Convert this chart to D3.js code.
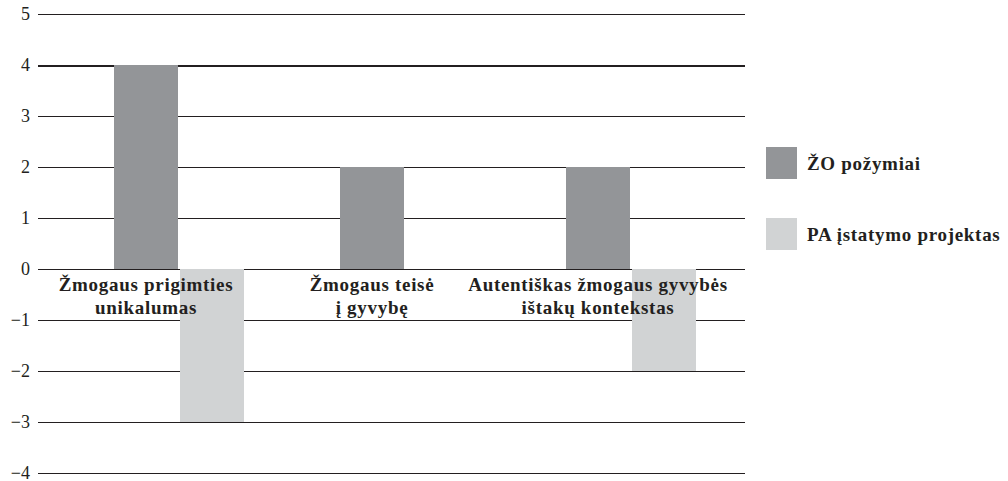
<!DOCTYPE html>
<html>
<head>
<meta charset="utf-8">
<script src="https://cdn.jsdelivr.net/npm/d3@7"></script>
<style>
  html, body { margin: 0; padding: 0; background: #fff; }
  svg text { font-family: "Liberation Serif", "DejaVu Serif", serif; fill: #231f20; }
</style>
</head>
<body>
<svg id="chart" width="1008" height="481"></svg>
<script>
// Categories (each split into display lines) and series values
const categories = ["Žmogaus prigimties unikalumas", "Žmogaus teisė į gyvybę", "Autentiškas žmogaus gyvybės ištakų kontekstas"];
const categoryLines = [["Žmogaus prigimties", "unikalumas"], ["Žmogaus teisė", "į gyvybę"], ["Autentiškas žmogaus gyvybės", "ištakų kontekstas"]];
const seriesNames = ["ŽO požymiai", "PA įstatymo projektas"];
const zoValues = [4, 2, 2];
const paValues = [-3, 0, -2];
const yTicks = [-4, -3, -2, -1, 0, 1, 2, 3, 4, 5];
const seriesColors = ["#939598", "#d1d3d4"];

const svg = d3.select("#chart");

const gridLeft = 38, gridRight = 745;
const y = d3.scaleLinear().domain([-4, 5]).range([473, 14]);
const x = d3.scaleBand().domain(categories).range([66, 744])
  .paddingInner(0.425).paddingOuter(0.2125);
const xs = d3.scaleBand().domain(seriesNames).range([0, x.bandwidth()]).paddingInner(0.03);

// Horizontal gridlines with tick labels
const yAxis = d3.axisLeft(y)
  .tickValues(yTicks)
  .tickSize(-(gridRight - gridLeft))
  .tickFormat(d => d < 0 ? "\u2212" + Math.abs(d) : String(d));

const gAxis = svg.append("g")
  .attr("transform", `translate(${gridLeft},0)`)
  .call(yAxis);
gAxis.select(".domain").remove();
gAxis.selectAll(".tick line")
  .attr("stroke", "#231f20")
  .attr("stroke-width", d => d === 4 ? 2 : 1)
  .attr("shape-rendering", "crispEdges");
gAxis.selectAll(".tick text")
  .attr("x", -8)
  .attr("dy", "0.3em")
  .attr("font-size", 18)
  .style("font-family", "'Liberation Serif', serif")
  .attr("fill", "#231f20");

// Bars
const series = [zoValues, paValues];
series.forEach((vals, si) => {
  svg.append("g").selectAll("rect")
    .data(vals)
    .join("rect")
    .attr("x", (d, i) => x(categories[i]) + xs(seriesNames[si]))
    .attr("width", xs.bandwidth())
    .attr("y", d => y(Math.max(0, d)))
    .attr("height", d => Math.abs(y(d) - y(0)))
    .attr("fill", seriesColors[si])
    .attr("shape-rendering", "crispEdges");
});

// Category labels, centred on the first series bar
const labels = svg.append("g");
categoryLines.forEach((lines, i) => {
  const cx = x(categories[i]) + xs(seriesNames[0]) + xs.bandwidth() / 2;
  const t = labels.append("text")
    .attr("text-anchor", "middle")
    .attr("font-weight", "bold")
    .attr("font-size", 19)
    .attr("letter-spacing", 0.7);
  lines.forEach((ln, j) => {
    t.append("tspan").attr("x", cx).attr("y", y(0) + 22 + j * 23).text(ln);
  });
});

// Legend
const legend = svg.append("g").attr("transform", "translate(766,147)");
seriesNames.forEach((name, i) => {
  const g = legend.append("g").attr("transform", `translate(0,${i * 71})`);
  g.append("rect").attr("width", 31).attr("height", 32).attr("fill", seriesColors[i]);
  g.append("text").attr("x", 41).attr("y", 23)
    .attr("font-weight", "bold").attr("font-size", 19)
    .attr("letter-spacing", 0.7).text(name);
});
</script>
</body>
</html>
